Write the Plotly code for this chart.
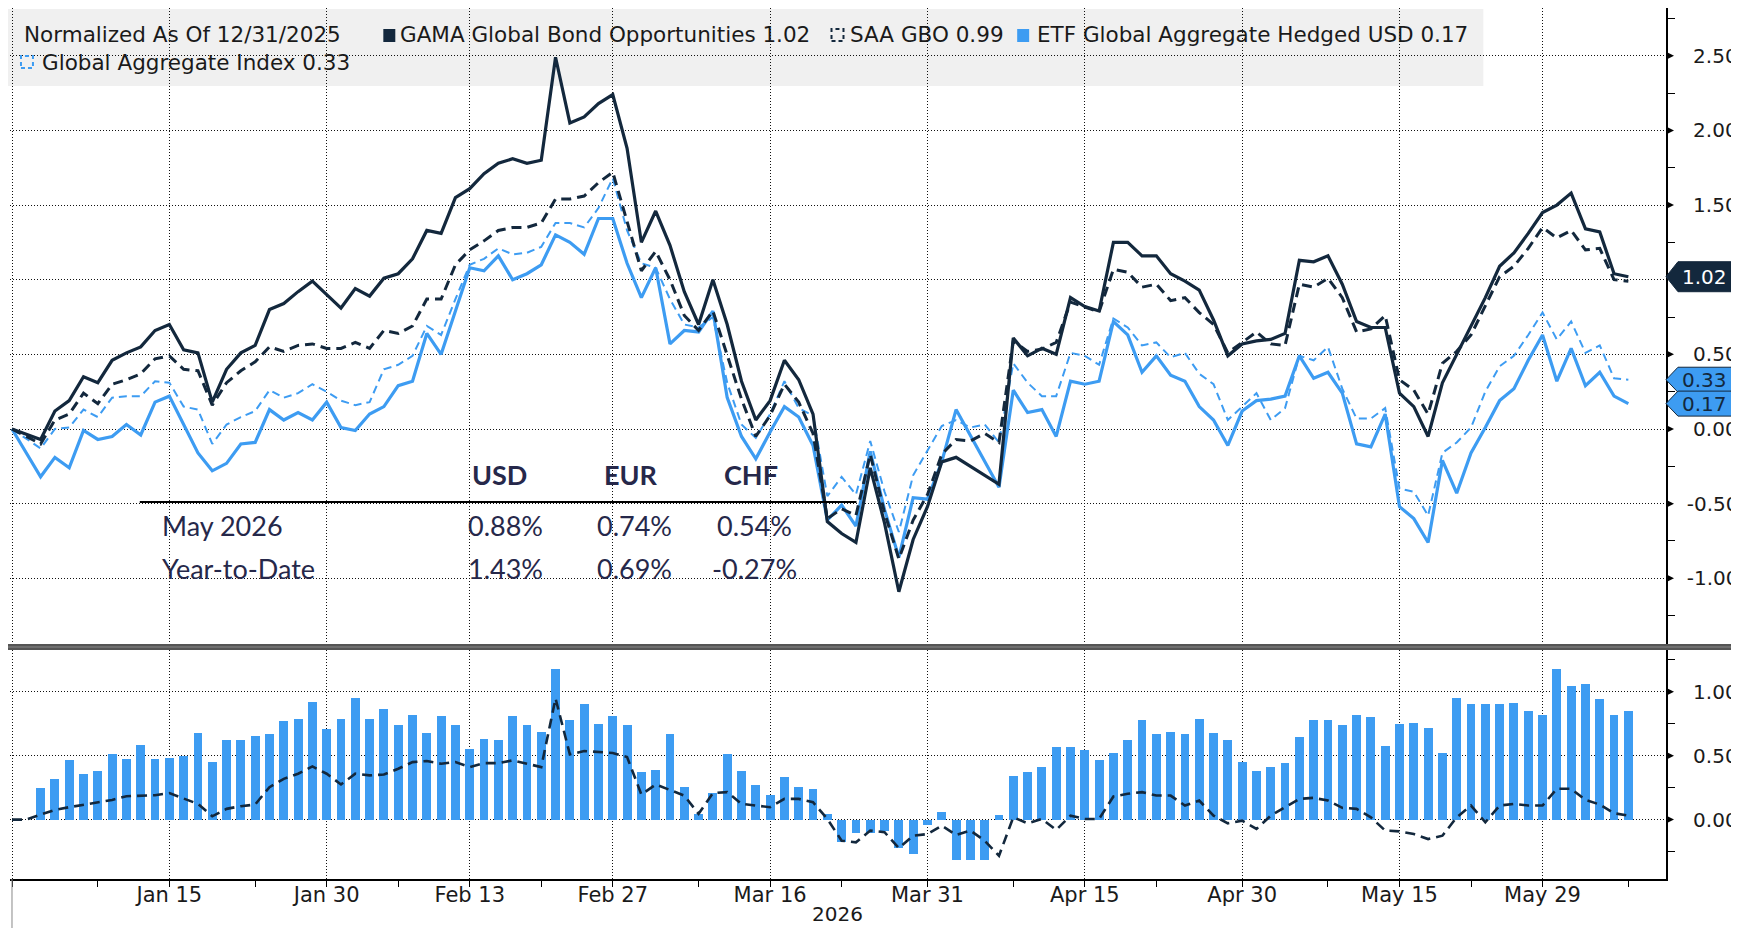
import pandas as pd
import plotly.graph_objects as go

# ---------------- data ----------------
dates = pd.bdate_range("2025-12-31", periods=114)

gama = [0, None, -0.07, 0.12, 0.19, 0.35, 0.31, 0.46, 0.51, 0.55,
        0.66, 0.70, 0.53, 0.51, 0.18, 0.40, 0.51, 0.56, 0.80, 0.84,
        0.92, 0.99, 0.90, 0.81, 0.94, 0.89, 1.01, 1.04, 1.14, 1.33,
        1.31, 1.55, 1.61, 1.71, 1.78, 1.81, 1.78, 1.80, 2.49, 2.05,
        2.09, 2.18, 2.24, 1.88, 1.25, 1.46, 1.23, 0.92, 0.70, 1.00,
        0.70, 0.32, 0.06, 0.19, 0.46, 0.33, 0.10, -0.62, -0.70, -0.76,
        -0.26, -0.63, -1.09, -0.74, -0.52, -0.22, -0.19, None, None, -0.37,
        0.61, 0.49, 0.54, 0.50, 0.88, 0.82, 0.79, 1.25, 1.25, 1.16,
        1.16, 1.04, 0.99, 0.93, 0.73, 0.49, 0.57, 0.59, 0.60, 0.64,
        1.13, 1.12, 1.16, 0.97, 0.72, 0.68, 0.68, 0.24, 0.15, -0.05,
        0.31, 0.50, 0.70, 0.88, 1.09, 1.18, 1.31, 1.45, 1.50, 1.58,
        1.34, 1.32, 1.04, 1.02]

saa = [0, None, -0.10, 0.06, 0.10, 0.24, 0.17, 0.30, 0.33, 0.37,
       0.47, 0.49, 0.40, 0.39, 0.16, 0.31, 0.39, 0.45, 0.55, 0.52,
       0.56, 0.57, 0.54, 0.54, 0.58, 0.54, 0.66, 0.64, 0.69, 0.87,
       0.87, 1.10, 1.20, 1.26, 1.33, 1.35, 1.35, 1.38, 1.54, 1.54,
       1.56, 1.65, 1.72, 1.39, 1.06, 1.19, 1.00, 0.76, 0.66, 0.79,
       0.49, 0.20, -0.05, 0.09, 0.30, 0.18, -0.03, -0.60, -0.535, -0.58,
       -0.17, -0.56, -0.87, -0.61, -0.44, -0.17, -0.07, -0.08, -0.03, -0.09,
       0.59, 0.52, 0.535, 0.58, 0.85, 0.815, 0.785, 1.07, 1.05, 0.95,
       0.97, 0.86, 0.88, 0.78, 0.70, 0.51, 0.58, 0.65, 0.57, 0.56,
       0.97, 0.95, 1.01, 0.88, 0.65, 0.67, 0.76, 0.33, 0.26, 0.10,
       0.44, 0.52, 0.63, 0.82, 1.02, 1.09, 1.21, 1.35, 1.28, 1.33,
       1.20, 1.21, 1.00, 0.99]

etf = [0, None, -0.32, -0.19, -0.26, -0.01, -0.07, -0.05, 0.03, -0.04,
       0.18, 0.22, 0.03, -0.16, -0.28, -0.23, -0.10, -0.09, 0.13, 0.06,
       0.11, 0.06, 0.18, 0.01, -0.01, 0.10, 0.15, 0.29, 0.32, 0.64,
       0.50, 0.79, 1.08, 1.06, 1.16, 1.00, 1.04, 1.10, 1.30, 1.25,
       1.17, 1.41, 1.41, 1.11, 0.88, 1.08, 0.57, 0.66, 0.65, 0.79,
       0.21, -0.05, -0.20, -0.02, 0.15, 0.08, -0.11, -0.61, -0.51, -0.65,
       -0.15, -0.54, -0.86, -0.46, -0.47, -0.22, 0.13, None, None, -0.39,
       0.26, 0.11, 0.13, -0.05, 0.32, 0.30, 0.32, 0.72, 0.63, 0.38,
       0.49, 0.36, 0.32, 0.15, 0.06, -0.11, 0.12, 0.19, 0.20, 0.22,
       0.49, 0.34, 0.38, 0.24, -0.10, -0.12, 0.10, -0.52, -0.60, -0.76,
       -0.21, -0.43, -0.16, 0.01, 0.19, 0.27, 0.46, 0.63, 0.32, 0.54,
       0.29, 0.38, 0.22, 0.17]

gagg = [0, None, -0.13, 0.00, 0.01, 0.13, 0.08, 0.21, 0.22, 0.22,
        0.32, 0.31, 0.15, 0.13, -0.10, 0.03, 0.08, 0.12, 0.26, 0.21,
        0.24, 0.30, 0.25, 0.19, 0.16, 0.18, 0.40, 0.43, 0.49, 0.69,
        0.63, 0.87, 1.10, 1.14, 1.21, 1.17, 1.18, 1.22, 1.38, 1.38,
        1.35, 1.48, 1.68, 1.33, 1.11, 1.08, 0.87, 0.70, 0.68, 0.75,
        0.31, 0.03, -0.06, 0.10, 0.32, 0.14, 0.09, -0.45, -0.32, -0.44,
        -0.08, -0.42, -0.69, -0.31, -0.14, 0.02, 0.06, 0.01, 0.03, -0.09,
        0.44, 0.31, 0.22, 0.22, 0.51, 0.49, 0.43, 0.74, 0.68, 0.56,
        0.58, 0.48, 0.51, 0.37, 0.30, 0.06, 0.15, 0.24, 0.06, 0.14,
        0.49, 0.46, 0.55, 0.27, 0.07, 0.07, 0.14, -0.40, -0.42, -0.58,
        -0.16, -0.09, 0.01, 0.25, 0.42, 0.49, 0.63, 0.78, 0.60, 0.72,
        0.51, 0.56, 0.34, 0.33]

spread_bars = [0, 0, 0.249, 0.319, 0.463, 0.359, 0.380, 0.516, 0.474, 0.586,
               0.474, 0.484, 0.495, 0.678, 0.453, 0.620, 0.620, 0.657, 0.668, 0.770,
               0.791, 0.924, 0.709, 0.791, 0.955, 0.791, 0.864, 0.738, 0.822, 0.678,
               0.812, 0.738, 0.555, 0.628, 0.620, 0.812, 0.738, 0.688, 1.181, 0.780,
               0.903, 0.751, 0.812, 0.738, 0.369, 0.390, 0.668, 0.259, 0.045, 0.207,
               0.516, 0.380, 0.267, 0.196, 0.330, 0.259, 0.238, 0.045, -0.173, -0.107,
               -0.107, -0.086, -0.223, -0.270, -0.042, 0.063, -0.314, -0.314, -0.314, 0.034,
               0.340, 0.372, 0.411, 0.565, 0.565, 0.547, 0.463, 0.524, 0.620, 0.780,
               0.668, 0.688, 0.668, 0.791, 0.678, 0.620, 0.453, 0.382, 0.411, 0.442,
               0.647, 0.780, 0.780, 0.738, 0.822, 0.801, 0.576, 0.749, 0.759, 0.720,
               0.524, 0.955, 0.903, 0.903, 0.903, 0.914, 0.853, 0.822, 1.181, 1.047,
               1.058, 0.945, 0.822, 0.853]

spread_line = [0, 0, 0.040, 0.076, 0.097, 0.118, 0.136, 0.154, 0.183, 0.186,
               0.191, 0.207, 0.162, 0.123, 0.026, 0.084, 0.105, 0.118, 0.254, 0.319,
               0.359, 0.416, 0.359, 0.275, 0.359, 0.346, 0.353, 0.398, 0.450, 0.458,
               0.437, 0.450, 0.411, 0.442, 0.442, 0.463, 0.437, 0.411, 0.948, 0.510,
               0.537, 0.529, 0.521, 0.490, 0.196, 0.275, 0.233, 0.188, 0.045, 0.207,
               0.215, 0.123, 0.110, 0.097, 0.162, 0.162, 0.136, 0.005, -0.165, -0.178,
               -0.086, -0.099, -0.223, -0.126, -0.113, -0.047, -0.120, -0.086, -0.165, -0.283,
               0.018, -0.029, 0.005, -0.081, 0.031, 0.005, 0.005, 0.181, 0.202, 0.215,
               0.188, 0.188, 0.110, 0.149, 0.031, -0.029, -0.008, -0.073, 0.031, 0.097,
               0.162, 0.170, 0.149, 0.092, 0.084, 0.018, -0.086, -0.092, -0.113, -0.152,
               -0.126, 0.018, 0.110, -0.021, 0.110, 0.123, 0.110, 0.110, 0.241, 0.241,
               0.154, 0.118, 0.050, 0.031]

label_dates = ["2026-01-15", "2026-01-30", "2026-02-13", "2026-02-27", "2026-03-16",
               "2026-03-31", "2026-04-15", "2026-04-30", "2026-05-15", "2026-05-29"]
minor_dates = ["2026-01-08", "2026-01-23", "2026-02-06", "2026-02-20", "2026-03-09",
               "2026-03-23", "2026-04-08", "2026-04-22", "2026-05-08", "2026-05-22",
               "2026-06-08"]

top_ticks = [-1.0, -0.5, 0.0, 0.5, 1.0, 1.5, 2.0, 2.5]
top_minor = [-1.25, -0.75, -0.25, 0.25, 0.75, 1.25, 1.75, 2.25, 2.75]
bot_ticks = [0.0, 0.5, 1.0]
bot_minor = [-0.25, 0.25, 0.75, 1.25]

table_cols = ["USD", "EUR", "CHF"]
table_rows = ["May 2026", "Year-to-Date"]
table_vals = [["0.88%", "0.74%", "0.54%"], ["1.43%", "0.69%", "-0.27%"]]

names = {"gama": "GAMA Global Bond Opportunities", "saa": "SAA GBO",
         "etf": "ETF Global Aggregate Hedged USD", "gagg": "Global Aggregate Index"}

# ---------------- style / layout geometry ----------------
NAVY = "#13283d"
BLUE = "#3d9cf2"
TXT = "#1a1a1a"
TBL = "#26284a"
OFF = 8                      # page body margin of the html page
W, H = 1739 - OFF, 928 - OFF  # figure size so the page fills the window
L, R, T, B = 10 - OFF, 70, 8 - OFF, 49
PW, PH = W - L - R, H - T - B
AX = 1669                   # page x of the right axis
BOT = 879                   # page y of the bottom axis


def px(xp):
    """page pixel x -> paper x"""
    return (xp - OFF - L) / PW


def py(yp):
    """page pixel y -> paper y"""
    return (H - B - (yp - OFF)) / PH


pos = {d: i for i, d in enumerate(dates)}
x = list(range(len(dates)))
tick_idx = [0] + [pos[pd.Timestamp(d)] for d in label_dates]
tick_txt = [""] + [f"{pd.Timestamp(d):%b} {pd.Timestamp(d).day}" for d in label_dates]
minor_idx = [pos[pd.Timestamp(d)] for d in minor_dates]

xr = [(10 - 12) / 14.33, (AX - 12) / 14.33]
top_rng = [(429 - 645) / 149.3, (429 - 8) / 149.3]
bot_rng = [(819.6 - BOT) / 127.8, (819.6 - 650) / 127.8]


def ylab(v):
    s = f"{v:.2f}"
    return s if v < 0 else " " + s


fig = go.Figure()
fig.add_trace(go.Scatter(x=x, y=gagg, mode="lines", connectgaps=True,
                         line=dict(color=BLUE, width=2, dash="8px,5px")))
fig.add_trace(go.Scatter(x=x, y=etf, mode="lines", connectgaps=True,
                         line=dict(color=BLUE, width=3.2)))
fig.add_trace(go.Scatter(x=x, y=saa, mode="lines", connectgaps=True,
                         line=dict(color=NAVY, width=3, dash="10px,6px")))
fig.add_trace(go.Scatter(x=x, y=gama, mode="lines", connectgaps=True,
                         line=dict(color=NAVY, width=3.2)))
fig.add_trace(go.Bar(x=x, y=spread_bars, marker=dict(color=BLUE, line=dict(width=0)),
                     width=0.62, xaxis="x2", yaxis="y2"))
fig.add_trace(go.Scatter(x=x, y=spread_line, mode="lines", xaxis="x2", yaxis="y2",
                         line=dict(color=NAVY, width=2.6, dash="10px,6px")))

grid = dict(showgrid=True, gridcolor="#111", griddash="1px,2px", gridwidth=1, zeroline=False)
tickfont = dict(family="DejaVu Sans", size=20, color=TXT)

fig.update_layout(
    width=W, height=H, margin=dict(l=L, r=R, t=T, b=B),
    paper_bgcolor="white", plot_bgcolor="white", showlegend=False, bargap=0,
    xaxis=dict(domain=[0, 1], range=xr, anchor="y", tickmode="array", tickvals=tick_idx,
               showticklabels=False, ticks="", showline=False, **grid),
    xaxis2=dict(domain=[0, 1], range=xr, anchor="y2", matches="x", tickmode="array",
                tickvals=tick_idx, ticktext=tick_txt, ticks="outside", ticklen=6,
                tickcolor="black", showline=True, linecolor="black", linewidth=1.5,
                tickfont=dict(family="DejaVu Sans", size=21, color=TXT),
                ticklabelstandoff=-10,
                minor=dict(tickvals=minor_idx, ticks="outside", ticklen=6,
                           tickcolor="black", showgrid=False), **grid),
    yaxis=dict(domain=[py(645), 1], range=top_rng, side="right", anchor="x",
               tickmode="array", tickvals=top_ticks,
               ticktext=["" if v == 1.0 else ylab(v) for v in top_ticks],
               ticks="", showline=True, linecolor="black", linewidth=1.5,
               tickfont=tickfont, ticklabelstandoff=15,
               minor=dict(tickvals=top_minor, ticks="outside", ticklen=7,
                          tickcolor="black", showgrid=False), **grid),
    yaxis2=dict(domain=[0, py(650)], range=bot_rng, side="right", anchor="x2",
                tickmode="array", tickvals=bot_ticks,
                ticktext=[ylab(v) for v in bot_ticks],
                ticks="", showline=True, linecolor="black", linewidth=1.5,
                tickfont=tickfont, ticklabelstandoff=15,
                minor=dict(tickvals=bot_minor, ticks="outside", ticklen=7,
                           tickcolor="black", showgrid=False), **grid),
)

shapes = []
# legend panel
shapes.append(dict(type="rect", xref="paper", yref="paper", layer="below",
                   x0=px(8), x1=px(1486), y0=py(86), y1=py(9),
                   fillcolor="#f0f0f0", line=dict(width=0)))
# separator between panels
shapes.append(dict(type="rect", xref="paper", yref="paper", layer="above",
                   x0=px(4), x1=px(1745), y0=py(650), y1=py(644),
                   fillcolor="#555555", line=dict(width=0)))
shapes.append(dict(type="line", xref="paper", yref="paper", layer="above",
                   x0=px(4), x1=px(1745), y0=py(647), y1=py(647),
                   line=dict(color="#8a8a8a", width=1)))
# long year-start tick
shapes.append(dict(type="line", xref="paper", yref="paper",
                   x0=px(12), x1=px(12), y0=py(BOT), y1=py(930),
                   line=dict(color="#888", width=1)))
# table rule
shapes.append(dict(type="line", xref="paper", yref="paper",
                   x0=px(140), x1=px(858), y0=py(502), y1=py(502),
                   line=dict(color="black", width=2.2)))

# triangle tick markers on right axes
for v in top_ticks:
    if v == 1.0:
        continue
    d = 4 / 149.3
    shapes.append(dict(type="path", xref="paper", yref="y",
                       path=f"M {px(AX)},{v - d} L {px(AX + 8)},{v} L {px(AX)},{v + d} Z",
                       fillcolor="black", line=dict(width=0)))
for v in bot_ticks:
    d = 4 / 127.8
    shapes.append(dict(type="path", xref="paper", yref="y2",
                       path=f"M {px(AX)},{v - d} L {px(AX + 8)},{v} L {px(AX)},{v + d} Z",
                       fillcolor="black", line=dict(width=0)))

# last-value tags
annotations = []
tags = [(gama[-1], NAVY, "white", 15), (gagg[-1], BLUE, NAVY, 12.5), (etf[-1], BLUE, NAVY, 12.5)]
for val, fill, tcol, hpx in tags:
    hh = hpx / 149.3
    tip, sh, rx = px(AX), px(AX + 12), px(1745)
    shapes.append(dict(type="path", xref="paper", yref="y", layer="above",
                       path=(f"M {tip},{val} L {sh},{val + hh} L {rx},{val + hh} "
                             f"L {rx},{val - hh} L {sh},{val - hh} Z"),
                       fillcolor=fill, line=dict(color=NAVY, width=1)))
    annotations.append(dict(xref="paper", yref="y", x=px(1683), y=val, xanchor="left",
                            yanchor="middle", text=f"{val:.2f}", showarrow=False,
                            font=dict(family="DejaVu Sans", size=20, color=tcol)))


# legend symbols
def square(x0, y0, color, dashed):
    if dashed:
        return dict(type="rect", xref="paper", yref="paper", x0=px(x0), x1=px(x0 + 12),
                    y0=py(y0 + 12), y1=py(y0), fillcolor="rgba(0,0,0,0)",
                    line=dict(color=color, width=2, dash="4px,3px"))
    return dict(type="rect", xref="paper", yref="paper", x0=px(x0), x1=px(x0 + 12),
                y0=py(y0 + 13), y1=py(y0), fillcolor=color, line=dict(width=0))


shapes.append(square(384, 29, NAVY, False))
shapes.append(square(833, 29, NAVY, True))
shapes.append(square(1019, 29, BLUE, False))
shapes.append(square(21, 56, BLUE, True))

lf = dict(family="DejaVu Sans", size=21.5, color=TXT)
legend_items = [
    (22, 35, "Normalized As Of 12/31/2025"),
    (399, 35, f"{names['gama']} {gama[-1]:.2f}"),
    (850, 35, f"{names['saa']} {saa[-1]:.2f}"),
    (1037, 35, f"{names['etf']} {etf[-1]:.2f}"),
    (40, 62, f"{names['gagg']} {gagg[-1]:.2f}"),
]
for xp, yp, t in legend_items:
    annotations.append(dict(xref="paper", yref="paper", x=px(xp), y=py(yp), xanchor="left",
                            yanchor="middle", text=t, showarrow=False, font=lf))

# performance table
col_x = [500, 632, 752]
for cx, c in zip(col_x, table_cols):
    annotations.append(dict(xref="paper", yref="paper", x=px(cx), y=py(474), xanchor="center",
                            yanchor="middle", text=f"<b>{c}</b>", showarrow=False,
                            font=dict(family="Lato", size=27, color=TBL)))
for ry, rname, rvals in zip([525, 568], table_rows, table_vals):
    annotations.append(dict(xref="paper", yref="paper", x=px(160), y=py(ry), xanchor="left",
                            yanchor="middle", text=rname, showarrow=False,
                            font=dict(family="Lato", size=27, color=TBL)))
    for cx, v in zip([506, 636, 756], rvals):
        annotations.append(dict(xref="paper", yref="paper", x=px(cx), y=py(ry), xanchor="center",
                                yanchor="middle", text=v, showarrow=False,
                                font=dict(family="Lato", size=27, color=TBL)))

annotations.append(dict(xref="paper", yref="paper", x=px(839), y=py(914), xanchor="center",
                        yanchor="middle", text=str(dates[-1].year), showarrow=False,
                        font=dict(family="DejaVu Sans", size=20, color=TXT)))

fig.update_layout(shapes=shapes, annotations=annotations)
fig.write_html("out.html")
